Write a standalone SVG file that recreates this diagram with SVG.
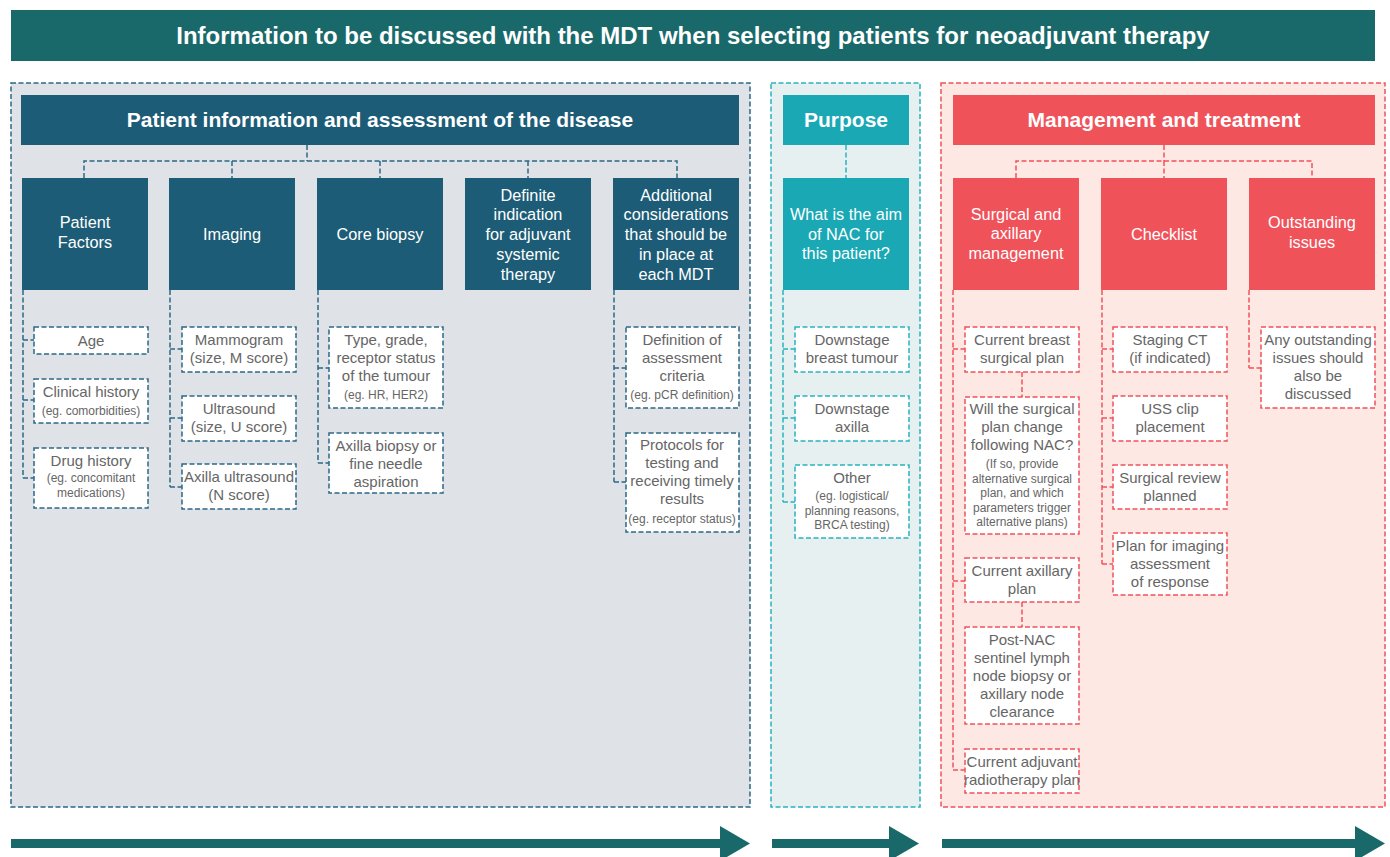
<svg xmlns="http://www.w3.org/2000/svg" width="1390" height="857" viewBox="0 0 1390 857">
<style>
text{font-family:"Liberation Sans",Arial,sans-serif;text-anchor:middle}
.title{font-size:24px;font-weight:bold;fill:#fff}
.hdr{font-size:21px;font-weight:bold;fill:#fff}
.nt{font-size:16.3px;fill:#fff}
.ct{font-size:15px;fill:#666}
.sm{font-size:12px;fill:#666}
.dsh{stroke-dasharray:5 2.5;stroke-width:1.5}
.bl{stroke:#2c6886;fill:none}
.tq{stroke:#28b2bd;fill:none}
.rd{stroke:#f0525a;fill:none}
.cb{fill:#fff;stroke-width:1.5;stroke-dasharray:5 2.5}
</style>
<rect width="1390" height="857" fill="#fff"/>

<g id="title">
<rect x="11" y="10" width="1364" height="51" fill="#19696b"/>
<text class="title" x="693" y="44">Information to be discussed with the MDT when selecting patients for neoadjuvant therapy</text>
</g>

<g id="panels">
<rect x="11" y="83" width="739" height="724" fill="#dfe2e6" stroke="#2c6886" class="dsh"/>
<rect x="771" y="83" width="149" height="724" fill="#e6f0f1" stroke="#28b2bd" class="dsh"/>
<rect x="941" y="83" width="444" height="724" fill="#fde8e4" stroke="#f0525a" class="dsh"/>
</g>

<g id="connectors">
<path class="bl dsh" d="M307,145V161M84,178V161H677V178M232,161V178M380,161V178M528,161V178"/>
<path class="bl dsh" d="M23,290V478M23,340H34M23,400H34M23,478H34"/>
<path class="bl dsh" d="M170,290V487M170,349H182M170,418H182M170,487H182"/>
<path class="bl dsh" d="M318,290V463M318,368H329M318,463H329"/>
<path class="bl dsh" d="M614,290V482M614,368H626M614,482H626"/>
<path class="tq dsh" d="M846,145V178"/>
<path class="tq dsh" d="M783,290V502M783,349H795M783,418H795M783,502H795"/>
<path class="rd dsh" d="M1164,145V161M1016,178V161H1312V178M1164,161V178"/>
<path class="rd dsh" d="M953,290V770M953,349H965M953,581H965M953,770H965M1022,372V397M1022,602V627"/>
<path class="rd dsh" d="M1102,290V564M1102,349H1113M1102,418H1113M1102,487H1113M1102,564H1113"/>
<path class="rd dsh" d="M1249,290V368M1249,368H1261"/>
</g>

<g id="hdr-patient">
<rect x="21" y="95" width="718" height="50" fill="#1d5c76"/>
<text class="hdr" x="380" y="127">Patient information and assessment of the disease</text>
</g>
<g id="hdr-purpose">
<rect x="783" y="95" width="126" height="50" fill="#1aa8b5"/>
<text class="hdr" x="846" y="127">Purpose</text>
</g>
<g id="hdr-management">
<rect x="953" y="95" width="422" height="50" fill="#f0525a"/>
<text class="hdr" x="1164" y="127">Management and treatment</text>
</g>

<g id="n-patient-factors">
<rect x="22" y="178" width="126" height="112" fill="#1d5c76"/>
<text class="nt" x="85" y="228">Patient</text><text class="nt" x="85" y="248">Factors</text>
</g>
<g id="n-imaging">
<rect x="169" y="178" width="126" height="112" fill="#1d5c76"/>
<text class="nt" x="232" y="240">Imaging</text>
</g>
<g id="n-core-biopsy">
<rect x="317" y="178" width="126" height="112" fill="#1d5c76"/>
<text class="nt" x="380" y="240">Core biopsy</text>
</g>
<g id="n-definite">
<rect x="465" y="178" width="126" height="112" fill="#1d5c76"/>
<text class="nt" x="528" y="201">Definite</text><text class="nt" x="528" y="220">indication</text><text class="nt" x="528" y="240">for adjuvant</text><text class="nt" x="528" y="260">systemic</text><text class="nt" x="528" y="280">therapy</text>
</g>
<g id="n-additional">
<rect x="613" y="178" width="126" height="112" fill="#1d5c76"/>
<text class="nt" x="676" y="201">Additional</text><text class="nt" x="676" y="220">considerations</text><text class="nt" x="676" y="240">that should be</text><text class="nt" x="676" y="260">in place at</text><text class="nt" x="676" y="280">each MDT</text>
</g>
<g id="n-aim">
<rect x="783" y="178" width="126" height="112" fill="#1aa8b5"/>
<text class="nt" x="846" y="220">What is the aim</text><text class="nt" x="846" y="240">of NAC for</text><text class="nt" x="846" y="259">this patient?</text>
</g>
<g id="n-surgical">
<rect x="953" y="178" width="126" height="112" fill="#f0525a"/>
<text class="nt" x="1016" y="220">Surgical and</text><text class="nt" x="1016" y="239">axillary</text><text class="nt" x="1016" y="259">management</text>
</g>
<g id="n-checklist">
<rect x="1101" y="178" width="126" height="112" fill="#f0525a"/>
<text class="nt" x="1164" y="240">Checklist</text>
</g>
<g id="n-outstanding">
<rect x="1249" y="178" width="126" height="112" fill="#f0525a"/>
<text class="nt" x="1312" y="228">Outstanding</text><text class="nt" x="1312" y="248">issues</text>
</g>

<g id="c-age"><rect class="cb" stroke="#2c6886" x="34" y="327" width="114" height="27"/><text class="ct" x="91" y="346">Age</text></g>
<g id="c-clinical"><rect class="cb" stroke="#2c6886" x="34" y="379" width="114" height="44"/><text class="ct" x="91" y="397">Clinical history</text><text class="sm" x="91" y="415">(eg. comorbidities)</text></g>
<g id="c-drug"><rect class="cb" stroke="#2c6886" x="34" y="448" width="114" height="60"/><text class="ct" x="91" y="466">Drug history</text><text class="sm" x="91" y="482">(eg. concomitant</text><text class="sm" x="91" y="497">medications)</text></g>

<g id="c-mammogram"><rect class="cb" stroke="#2c6886" x="182" y="327" width="114" height="45"/><text class="ct" x="239" y="345">Mammogram</text><text class="ct" x="239" y="363">(size, M score)</text></g>
<g id="c-ultrasound"><rect class="cb" stroke="#2c6886" x="182" y="396" width="114" height="45"/><text class="ct" x="239" y="414">Ultrasound</text><text class="ct" x="239" y="432">(size, U score)</text></g>
<g id="c-axilla-us"><rect class="cb" stroke="#2c6886" x="182" y="464" width="114" height="45"/><text class="ct" x="239" y="482">Axilla ultrasound</text><text class="ct" x="239" y="500">(N score)</text></g>

<g id="c-type"><rect class="cb" stroke="#2c6886" x="329" y="327" width="114" height="81"/><text class="ct" x="386" y="345">Type, grade,</text><text class="ct" x="386" y="363">receptor status</text><text class="ct" x="386" y="381">of the tumour</text><text class="sm" x="386" y="399">(eg. HR, HER2)</text></g>
<g id="c-axilla-biopsy"><rect class="cb" stroke="#2c6886" x="329" y="433" width="114" height="60"/><text class="ct" x="386" y="451">Axilla biopsy or</text><text class="ct" x="386" y="469">fine needle</text><text class="ct" x="386" y="487">aspiration</text></g>

<g id="c-definition"><rect class="cb" stroke="#2c6886" x="626" y="327" width="113" height="81"/><text class="ct" x="682" y="345">Definition of</text><text class="ct" x="682" y="363">assessment</text><text class="ct" x="682" y="381">criteria</text><text class="sm" x="682" y="399">(eg. pCR definition)</text></g>
<g id="c-protocols"><rect class="cb" stroke="#2c6886" x="626" y="433" width="113" height="99"/><text class="ct" x="682" y="450">Protocols for</text><text class="ct" x="682" y="468">testing and</text><text class="ct" x="682" y="486">receiving timely</text><text class="ct" x="682" y="504">results</text><text class="sm" x="682" y="523">(eg. receptor status)</text></g>

<g id="c-downstage-breast"><rect class="cb" stroke="#28b2bd" x="795" y="327" width="114" height="45"/><text class="ct" x="852" y="345">Downstage</text><text class="ct" x="852" y="363">breast tumour</text></g>
<g id="c-downstage-axilla"><rect class="cb" stroke="#28b2bd" x="795" y="396" width="114" height="45"/><text class="ct" x="852" y="414">Downstage</text><text class="ct" x="852" y="432">axilla</text></g>
<g id="c-other"><rect class="cb" stroke="#28b2bd" x="795" y="465" width="114" height="73"/><text class="ct" x="852" y="483">Other</text><text class="sm" x="852" y="500">(eg. logistical/</text><text class="sm" x="852" y="515">planning reasons,</text><text class="sm" x="852" y="529">BRCA testing)</text></g>

<g id="c-breast-plan"><rect class="cb" stroke="#f0525a" x="965" y="327" width="114" height="45"/><text class="ct" x="1022" y="345">Current breast</text><text class="ct" x="1022" y="363">surgical plan</text></g>
<g id="c-will-change"><rect class="cb" stroke="#f0525a" x="965" y="397" width="114" height="137"/><text class="ct" x="1022" y="414">Will the surgical</text><text class="ct" x="1022" y="432">plan change</text><text class="ct" x="1022" y="450">following NAC?</text><text class="sm" x="1022" y="468">(If so, provide</text><text class="sm" x="1022" y="483">alternative surgical</text><text class="sm" x="1022" y="497">plan, and which</text><text class="sm" x="1022" y="512">parameters trigger</text><text class="sm" x="1022" y="526">alternative plans)</text></g>
<g id="c-axillary-plan"><rect class="cb" stroke="#f0525a" x="965" y="558" width="114" height="44"/><text class="ct" x="1022" y="576">Current axillary</text><text class="ct" x="1022" y="594">plan</text></g>
<g id="c-post-nac"><rect class="cb" stroke="#f0525a" x="965" y="627" width="114" height="97"/><text class="ct" x="1022" y="645">Post-NAC</text><text class="ct" x="1022" y="663">sentinel lymph</text><text class="ct" x="1022" y="681">node biopsy or</text><text class="ct" x="1022" y="699">axillary node</text><text class="ct" x="1022" y="717">clearance</text></g>
<g id="c-radiotherapy"><rect class="cb" stroke="#f0525a" x="965" y="749" width="114" height="44"/><text class="ct" x="1022" y="767">Current adjuvant</text><text class="ct" x="1022" y="785">radiotherapy plan</text></g>

<g id="c-staging"><rect class="cb" stroke="#f0525a" x="1113" y="327" width="114" height="45"/><text class="ct" x="1170" y="345">Staging CT</text><text class="ct" x="1170" y="363">(if indicated)</text></g>
<g id="c-uss"><rect class="cb" stroke="#f0525a" x="1113" y="396" width="114" height="45"/><text class="ct" x="1170" y="414">USS clip</text><text class="ct" x="1170" y="432">placement</text></g>
<g id="c-review"><rect class="cb" stroke="#f0525a" x="1113" y="465" width="114" height="44"/><text class="ct" x="1170" y="483">Surgical review</text><text class="ct" x="1170" y="501">planned</text></g>
<g id="c-imaging-plan"><rect class="cb" stroke="#f0525a" x="1113" y="533" width="114" height="62"/><text class="ct" x="1170" y="551">Plan for imaging</text><text class="ct" x="1170" y="569">assessment</text><text class="ct" x="1170" y="587">of response</text></g>

<g id="c-any-outstanding"><rect class="cb" stroke="#f0525a" x="1261" y="327" width="114" height="81"/><text class="ct" x="1318" y="345">Any outstanding</text><text class="ct" x="1318" y="363">issues should</text><text class="ct" x="1318" y="381">also be</text><text class="ct" x="1318" y="399">discussed</text></g>

<g id="arrows" fill="#19696b">
<polygon points="11,839 720,839 720,826 750,843.5 720,861 720,848 11,848"/>
<polygon points="772,839 889,839 889,826 919,843.5 889,861 889,848 772,848"/>
<polygon points="942,839 1355,839 1355,826 1385,843.5 1355,861 1355,848 942,848"/>
</g>
</svg>
